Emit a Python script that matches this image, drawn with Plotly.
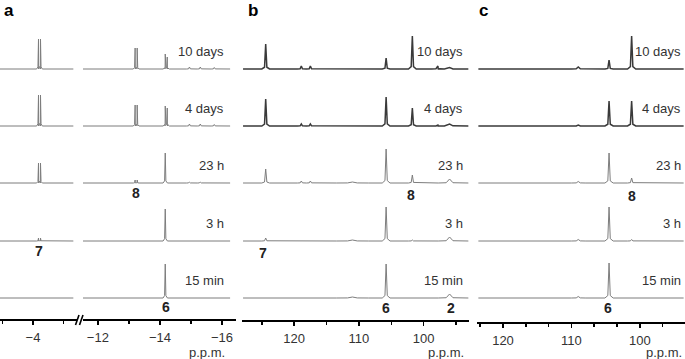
import plotly.graph_objects as go

W, H = 685, 359

# ---------------- data ----------------
times = ["10 days", "4 days", "23 h", "3 h", "15 min"]

# panel a, left window (compound 7, doublet)
a_left_ppm = [-4.18, -4.245]
a_left_width = [0.012, 0.012]
a_left_heights = [[30, 30], [31, 31], [20, 20], [3, 3], [0, 0]]

# panel a, right window (8 doublet, 6, minor signals)
a_right_ppm = [-13.20, -13.265, -14.17, -14.235, -14.95, -15.30, -15.75]
a_right_width = [0.012, 0.012, 0.014, 0.014, 0.02, 0.02, 0.02]
a_right_heights = [
    [21, 21, 15, 12, 2, 2, 1.5],
    [21, 21, 20, 18, 2, 2, 1.5],
    [3, 3, 30, 0, 1, 1, 0],
    [0, 0, 32, 0, 0.5, 0, 0],
    [0, 0, 34, 0, 0, 0, 0],
]

# panel b
b_ppm = [124.4, 118.9, 117.5, 111.0, 105.8, 101.75, 97.8, 96.0]
b_width = [0.12, 0.12, 0.12, 0.5, 0.12, 0.12, 0.2, 0.35]
b_heights = [
    [25, 3, 3, 0, 11, 33, 3, 1.5],
    [27, 2, 2, 0, 29, 18, 1, 2],
    [14, 2, 2, 1, 34, 8, 0, 4],
    [3, 0.5, 0.5, 1, 34, 1, 0, 4],
    [0, 0, 0, 1, 34, 0, 0, 4],
]

# panel c
c_ppm = [109.0, 104.5, 101.2]
c_width = [0.2, 0.12, 0.12]
c_heights = [
    [2, 9, 33],
    [1, 25, 25],
    [1.5, 30, 5],
    [1.5, 34, 1.5],
    [1.5, 35, 0],
]

# tick labels
a_left_ticks = [-4]
a_left_minor = [-3, -5]
a_right_ticks = [-12, -14, -16]
a_right_minor = [-13, -15]
b_ticks = [120, 110, 100]
b_minor = [125, 115, 105, 95]
c_ticks = [120, 110, 100]
c_minor = [123.33, 116.67, 113.33, 106.67, 103.33, 96.67, 93.33]

# ---------------- layout helpers ----------------
baselines = [69, 126, 183, 241, 298]
noisy = [True, True, False, False, False]


def px(x):
    return x / W


def py(y):
    return 1 - y / H


def spectrum(lo, hi, peaks, widths, heights):
    pts = [(lo, 0.0), (hi, 0.0)]
    for p, w, h in zip(peaks, widths, heights):
        if h > 0:
            pts += [(p - 5 * w, 0.0), (p - 1.5 * w, 0.07 * h), (p, h),
                    (p + 1.5 * w, 0.07 * h), (p + 5 * w, 0.0)]
    pts.sort(key=lambda t: t[0])
    return [t[0] for t in pts], [t[1] for t in pts]


fig = go.Figure()

panels = [
    ("x", -5.32, -2.92, a_left_ppm, a_left_width, a_left_heights, False),
    ("x2", -16.26, -11.52, a_right_ppm, a_right_width, a_right_heights, False),
    ("x3", 93.1, 127.9, b_ppm, b_width, b_heights, True),
    ("x4", 93.6, 123.6, c_ppm, c_width, c_heights, True),
]

for ax, lo, hi, peaks, widths, hts, has_noise in panels:
    for i, h in enumerate(hts):
        xs, ys = spectrum(lo, hi, peaks, widths, h)
        ys = [baselines[i] - v for v in ys]
        dark = has_noise and noisy[i]
        fig.add_trace(go.Scatter(
            x=xs, y=ys, xaxis=ax, yaxis="y", mode="lines",
            line=dict(color="#3a3a3a" if dark else "#7d7d7d",
                      width=1.5 if dark else 1.0),
            hoverinfo="skip", showlegend=False))

tickfont = dict(family="Liberation Sans, Arial", size=13, color="#333")


def xaxis(dom, rng, ypos, tv, minor):
    return dict(domain=[px(dom[0]), px(dom[1])], range=rng, anchor="free",
                position=py(ypos), showline=True, linecolor="black",
                linewidth=2, ticks="outside", tickcolor="black", tickwidth=1.5,
                ticklen=4, showgrid=False, zeroline=False,
                tickvals=tv, ticktext=[str(v).replace("-", "\u2212") for v in tv],
                tickfont=tickfont, ticklabelstandoff=1, fixedrange=True,
                minor=dict(tickvals=minor, ticks="outside", ticklen=3,
                           tickwidth=1.5, tickcolor="black", showgrid=False))


fig.update_layout(
    width=W, height=H, margin=dict(l=0, r=0, t=0, b=0),
    paper_bgcolor="white", plot_bgcolor="white",
    xaxis=xaxis((0, 77), [-2.92, -5.44], 320, a_left_ticks, a_left_minor),
    xaxis2=xaxis((83, 236), [-11.52, -16.45], 320, a_right_ticks, a_right_minor),
    xaxis3=xaxis((242, 469), [128.06, 93.0], 321, b_ticks, b_minor),
    xaxis4=xaxis((477, 685), [123.8, 93.4], 323, c_ticks, c_minor),
    yaxis=dict(domain=[0, 1], range=[H, 0], visible=False, fixedrange=True),
)

# axis break marks
for x0 in (75.5, 79.5):
    fig.add_shape(type="line", xref="paper", yref="paper",
                  x0=px(x0), y0=py(325), x1=px(x0 + 3.5), y1=py(315),
                  line=dict(color="black", width=1.6))

ann = []
font_lbl = dict(family="Liberation Sans, Arial", size=13, color="#333")
for xr in (226, 465, 683):
    for i, t in enumerate(times):
        ann.append(dict(text=t, xref="paper", x=px(xr), xanchor="right",
                        yref="y", y=baselines[i] - 18, yanchor="middle",
                        showarrow=False, font=font_lbl))
    ann.append(dict(text="p.p.m.", xref="paper", x=px(xr + 1), xanchor="right",
                    yref="y", y=352, yanchor="middle", showarrow=False,
                    font=font_lbl))

for letter, xx in (("a", 2), ("b", 246), ("c", 477)):
    ann.append(dict(text="<b>%s</b>" % letter, xref="paper", x=px(xx),
                    xanchor="left", yref="y", y=10, yanchor="middle",
                    showarrow=False,
                    font=dict(family="Liberation Sans, Arial", size=17,
                              color="black")))

numfont = dict(family="Liberation Sans, Arial", size=14, color="#222")
labels = [
    ("8", "x2", -13.23, 193), ("7", "x", -4.21, 251), ("6", "x2", -14.2, 307),
    ("8", "x3", 101.9, 195), ("7", "x3", 124.8, 253), ("6", "x3", 105.8, 308),
    ("2", "x3", 95.8, 308), ("8", "x4", 101.2, 196), ("6", "x4", 104.6, 308),
]
for t, xr, xx, yy in labels:
    ann.append(dict(text="<b>%s</b>" % t, xref=xr, x=xx, yref="y", y=yy,
                    xanchor="center", yanchor="middle", showarrow=False,
                    font=numfont))

fig.update_layout(annotations=ann)
fig.write_html(
    "out.html",
    config={"displayModeBar": False, "staticPlot": True},
    post_script="document.body.style.margin='0';"
                "document.body.style.overflow='hidden';")
